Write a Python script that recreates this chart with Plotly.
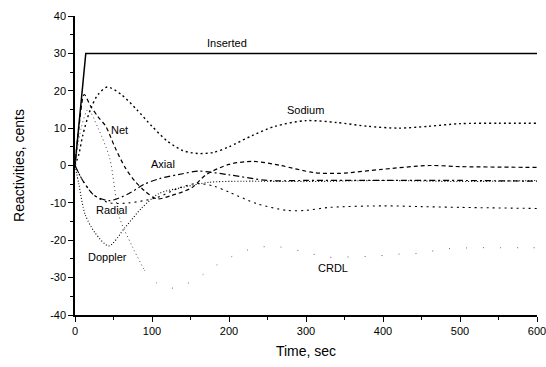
import plotly.graph_objects as go

# ---- data ----
inserted_t = [0, 14, 600]
inserted_y = [0, 30, 30]

sodium_t = [0, 5, 10, 20, 30, 42, 60, 80, 100, 120, 140, 160, 180, 200, 230, 260, 300, 340, 380, 420, 460, 500, 550, 600]
sodium_y = [0, 3, 8, 15, 19, 21, 19, 15, 10.5, 6.5, 4, 3.2, 3.5, 5, 8, 10.5, 12, 11.5, 10.5, 10, 10.5, 11.2, 11.3, 11.3]

net_t = [0, 5, 12, 20, 30, 40, 52, 65, 77, 90, 106, 126, 152, 170, 200, 231, 267, 310, 344, 400, 460, 500, 600]
net_y = [0, 10, 19, 16, 13, 10.5, 4.8, -0.5, -4, -6.7, -8.9, -8, -5.9, -2.5, 0.3, 1.1, 0, -1.9, -2.1, -1, 0, -0.3, -0.5]

axial_t = [0, 10, 25, 45, 70, 90, 110, 140, 160, 200, 250, 300, 400, 500, 600]
axial_y = [0, -4, -8, -9.4, -7.5, -5, -3.5, -2.2, -1.5, -2.5, -4, -4, -4, -4, -4.2]

doppler_t = [0, 5, 13, 26, 44, 65, 87, 109, 139, 174, 220, 300, 400, 500, 600]
doppler_y = [0, -5, -13, -18, -21.5, -16.6, -11.3, -7.5, -5.9, -4.5, -4.2, -4.3, -4, -4.3, -4]

radial_t = [0, 10, 25, 45, 70, 106, 135, 158, 180, 201, 236, 275, 300, 331, 400, 450, 500, 600]
radial_y = [0, -4, -8, -10, -10, -8.6, -6, -4.8, -5.5, -7.2, -10.2, -12, -12, -11.2, -10.8, -11, -11.2, -11.5]

crdl_t = [0, 8, 17, 30, 45, 58, 74, 90, 108, 130, 160, 184, 195, 234, 266, 303, 327, 348, 392, 422, 452, 476, 522, 552, 578, 600]
crdl_y = [0, 10, 15, 10, 2, -14, -21.5, -28, -31.7, -32.8, -30, -26.6, -25.2, -22, -21.8, -23.4, -24.5, -24.5, -24.2, -23.7, -23.4, -22.4, -22, -22, -22, -22]
crdl_visible_until = 7  # index up to which the CRDL trace is clearly drawn in the scan

labels = ["Inserted", "Sodium", "Net", "Axial", "Radial", "Doppler", "CRDL"]
label_t = [198, 299, 58, 114, 47, 42, 335]
label_y = [32.8, 14.8, 9.4, 0.5, -11.8, -24.5, -27.4]

x_ticks = [0, 100, 200, 300, 400, 500, 600]
y_ticks = [-40, -30, -20, -10, 0, 10, 20, 30, 40]

FONT = "Liberation Sans, Arial"

# ---- figure ----
fig = go.Figure()

def add(t, y, dash, width=1.3, color="black", shape="spline"):
    fig.add_trace(go.Scatter(x=t, y=y, mode="lines",
                             line=dict(color=color, width=width, dash=dash, shape=shape, smoothing=0.8),
                             showlegend=False, hoverinfo="skip"))

add(inserted_t, inserted_y, "solid", 1.5, shape="linear")
add(sodium_t, sodium_y, "2px,3px", 1.4)
add(net_t, net_y, "4px,3px", 1.2)
add(axial_t, axial_y, "6px,3px,2px,3px", 1.2)
add(doppler_t, doppler_y, "1px,2px", 1.1)
add(radial_t, radial_y, "2px,4px", 1.1)
add(crdl_t[:crdl_visible_until + 1], crdl_y[:crdl_visible_until + 1], "1px,3px", 1.0, color="#444444")
add(crdl_t[crdl_visible_until:], crdl_y[crdl_visible_until:], "1px,16px", 1.0, color="#666666")

for txt, tx, ty in zip(labels, label_t, label_y):
    fig.add_annotation(x=tx, y=ty, text=txt, showarrow=False,
                       font=dict(family=FONT, size=11, color="black"))

axis_common = dict(showgrid=False, zeroline=False, showline=True, linecolor="black", linewidth=1.5,
                   ticks="outside", ticklen=5, tickwidth=1.2, tickcolor="black",
                   tickfont=dict(family=FONT, size=11, color="black"),
                   mirror=False, automargin=False, ticklabeloverflow="allow")

fig.update_xaxes(range=[0, 600], tickvals=x_ticks, ticktext=[str(v) for v in x_ticks],
                 minor=dict(tickvals=[50, 150, 250, 350, 450, 550], ticks="outside", ticklen=3, tickcolor="black"),
                 title=dict(text="Time, sec", font=dict(family=FONT, size=14, color="black"), standoff=10),
                 **axis_common)
fig.update_yaxes(range=[-40, 40], tickvals=y_ticks, ticktext=[str(v) for v in y_ticks],
                 minor=dict(tickvals=[-35, -25, -15, -5, 5, 15, 25, 35], ticks="outside", ticklen=3, tickcolor="black"),
                 title=dict(text="Reactivities, cents", font=dict(family=FONT, size=14, color="black"), standoff=22),
                 **axis_common)

fig.update_layout(width=546, height=367, margin=dict(l=75, r=9, t=16, b=52, autoexpand=False),
                  plot_bgcolor="white", paper_bgcolor="white")

fig.write_html("out.html", config={"displayModeBar": False},
               post_script="document.body.style.margin='0';document.body.style.overflow='hidden';")
